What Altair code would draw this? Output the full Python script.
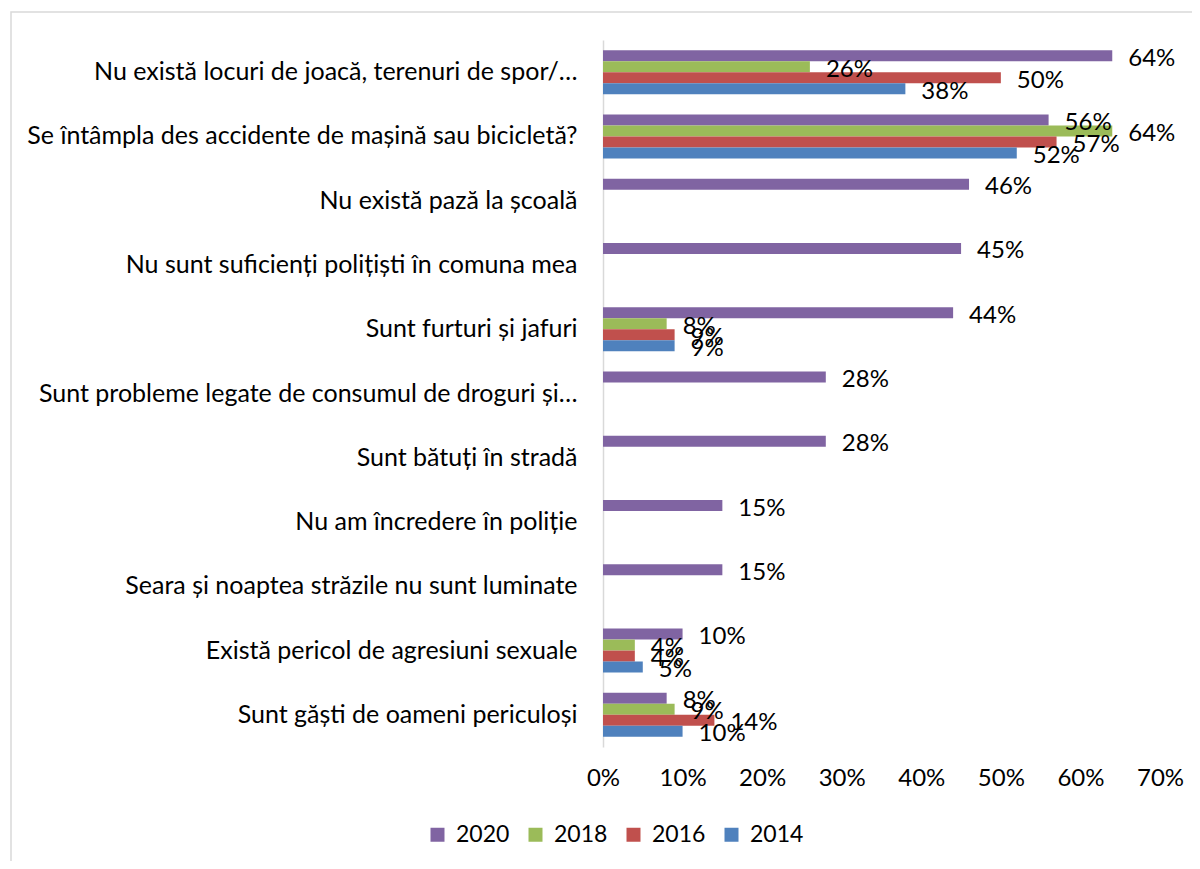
import altair as alt
import pandas as pd

categories = [
    "Nu există locuri de joacă, terenuri de spor/…",
    "Se întâmpla des accidente de mașină sau bicicletă?",
    "Nu există pază la școală",
    "Nu sunt suficienți polițiști în comuna mea",
    "Sunt furturi și jafuri",
    "Sunt probleme legate de consumul de droguri și…",
    "Sunt bătuți în stradă",
    "Nu am încredere în poliție",
    "Seara și noaptea străzile nu sunt luminate",
    "Există pericol de agresiuni sexuale",
    "Sunt găști de oameni periculoși",
]
series = ["2020", "2018", "2016", "2014"]
colors = ["#8064A2", "#9BBB59", "#C0504D", "#4F81BD"]

v2020 = [64, 56, 46, 45, 44, 28, 28, 15, 15, 10, 8]
v2018 = [26, 64, None, None, 8, None, None, None, None, 4, 9]
v2016 = [50, 57, None, None, 9, None, None, None, None, 4, 14]
v2014 = [38, 52, None, None, 9, None, None, None, None, 5, 10]

x_ticks = [0, 10, 20, 30, 40, 50, 60, 70]

rows = []
for s, vals in zip(series, [v2020, v2018, v2016, v2014]):
    for c, v in zip(categories, vals):
        if v is not None:
            rows.append({"cat": c, "year": s, "value": v, "label": f"{v}%"})
df = pd.DataFrame(rows)

FONT = "Lato"

y_enc = alt.Y("cat:N", sort=categories, title=None,
              scale=alt.Scale(paddingInner=0.315, paddingOuter=0.1575),
              axis=alt.Axis(domainColor="#d9d9d9", domainWidth=1.5, ticks=False,
                            labelPadding=26, labelLimit=600, labelFontSize=25,
                            labelFont=FONT, labelColor="#000000", labelFontWeight="normal"))
yoff = alt.YOffset("year:N", sort=series, scale=alt.Scale(domain=series, paddingInner=0, paddingOuter=0))
x_enc = alt.X("value:Q", title=None,
              scale=alt.Scale(domain=[0, 70], nice=False, zero=True),
              axis=alt.Axis(values=x_ticks, labelExpr="datum.value + '%'", domain=False,
                            ticks=False, grid=False, labelPadding=19, labelFontSize=24,
                            labelFlush=False, labelOverlap=False,
                            labelFont=FONT, labelColor="#000000", labelFontWeight="normal"))
color_enc = alt.Color("year:N", sort=series,
                      scale=alt.Scale(domain=series, range=colors),
                      legend=alt.Legend(title=None, orient="none", direction="horizontal",
                                        legendX=-177, legendY=783, symbolType="square",
                                        symbolSize=196, symbolStrokeWidth=0,
                                        labelFontSize=23, labelFont=FONT, labelColor="#000000",
                                        columnPadding=14, labelOffset=7))

bars = alt.Chart(df).mark_bar(size=11).encode(
    y=y_enc, yOffset=yoff, x=x_enc, color=color_enc
)
labels = alt.Chart(df).mark_text(align="left", baseline="middle", dx=16, dy=3,
                                 fontSize=24, font=FONT, color="#000000").encode(
    y=alt.Y("cat:N", sort=categories),
    yOffset=alt.YOffset("year:N", sort=series),
    x="value:Q",
    text="label:N",
)
frame = alt.Chart(alt.Data(values=[{}])).mark_rect(fill=None, stroke="#d9d9d9", strokeWidth=1.5).encode(
    x=alt.value(-592), x2=alt.value(600), y=alt.value(-28), y2=alt.value(900)
)

chart = alt.layer(frame, bars, labels).properties(
    width=557, height=707,
    background="white",
    autosize=alt.AutoSizeParams(type="none"),
    padding={"left": 595, "top": 32, "right": 32, "bottom": 114},
).configure_view(stroke=None)

chart.save("out.html", embed_options={"renderer": "svg", "actions": False})
